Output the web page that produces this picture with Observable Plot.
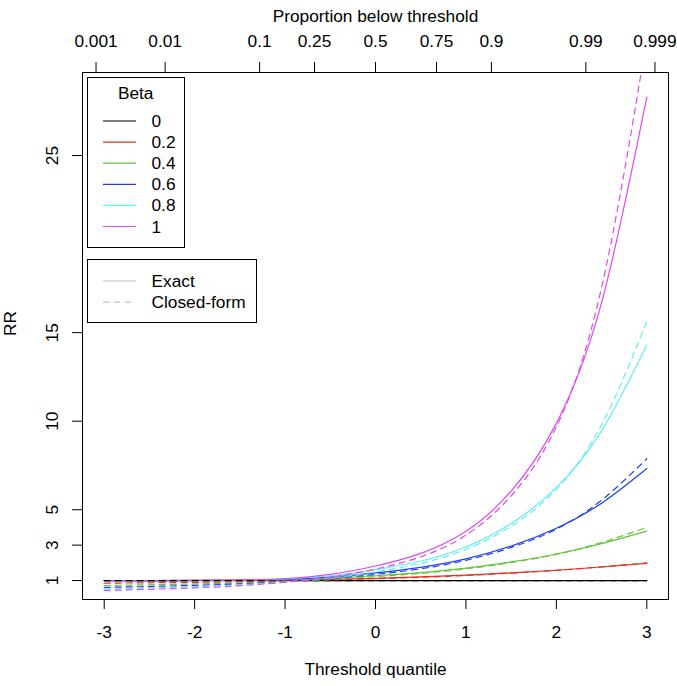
<!DOCTYPE html>
<html>
<head>
<meta charset="utf-8">
<script src="https://cdn.jsdelivr.net/npm/d3@7"></script>
<script src="https://cdn.jsdelivr.net/npm/@observablehq/plot@0.6"></script>
<style>
  html, body { margin: 0; padding: 0; background: #fff; }
  svg { font-family: "Liberation Sans", Arial, sans-serif; }
</style>
</head>
<body>
<div id="chart"></div>
<script>
// ---- data ----
const quantiles = [-3, -2.5, -2, -1.5, -1, -0.5, 0, 0.5, 1, 1.5, 2, 2.5, 3];
const betas = ["0", "0.2", "0.4", "0.6", "0.8", "1"];
const betaColors = ["#000000", "#e8321e", "#64c43c", "#2040f0", "#60f0f0", "#e048f0"];

const exact0  = [1, 1, 1, 1, 1, 1, 1, 1, 1, 1, 1, 1, 1];
const exact02 = [1, 1.000, 1.002, 1.007, 1.022, 1.062, 1.127, 1.204, 1.305, 1.433, 1.581, 1.765, 1.97];
const exact04 = [1, 1.001, 1.004, 1.014, 1.045, 1.127, 1.271, 1.451, 1.702, 2.054, 2.499, 3.083, 3.79];
const exact06 = [1, 1.001, 1.006, 1.021, 1.068, 1.197, 1.433, 1.747, 2.221, 2.945, 3.951, 5.37, 7.33];
const exact08 = [1, 1.002, 1.008, 1.028, 1.092, 1.271, 1.616, 2.104, 2.898, 4.221, 6.246, 9.45, 14.3];
const exact1  = [1, 1.002, 1.010, 1.036, 1.116, 1.350, 1.822, 2.535, 3.781, 6.050, 9.875, 16.69, 28.3];

const closed0  = [1, 1, 1, 1, 1, 1, 1, 1, 1, 1, 1, 1, 1];
const closed02 = [0.849, 0.873, 0.899, 0.933, 0.980, 1.035, 1.105, 1.185, 1.289, 1.420, 1.575, 1.774, 1.995];
const closed04 = [0.720, 0.762, 0.809, 0.871, 0.961, 1.070, 1.221, 1.405, 1.662, 2.018, 2.479, 3.146, 4.0];
const closed06 = [0.611, 0.666, 0.728, 0.813, 0.942, 1.107, 1.350, 1.665, 2.143, 2.866, 3.904, 5.54, 7.88];
const closed08 = [0.519, 0.581, 0.654, 0.759, 0.923, 1.146, 1.492, 1.974, 2.762, 4.071, 6.147, 9.8, 15.62];
const closed1  = [0.440, 0.508, 0.589, 0.708, 0.905, 1.185, 1.649, 2.340, 3.561, 5.783, 9.679, 17.55, 31.6];

const xTicks = [-3, -2, -1, 0, 1, 2, 3];
const yTicks = [1, 3, 5, 10, 15, 25];
const topTickLabels = ["0.001", "0.01", "0.1", "0.25", "0.5", "0.75", "0.9", "0.99", "0.999"];
const topTickQuantiles = [-3.0902, -2.3263, -1.2816, -0.6745, 0, 0.6745, 1.2816, 2.3263, 3.0902];

const methods = ["Exact", "Closed-form"];

// ---- build tables ----
const exactSeries = [exact0, exact02, exact04, exact06, exact08, exact1];
const closedSeries = [closed0, closed02, closed04, closed06, closed08, closed1];
const exactRows = [];
const closedRows = [];
betas.forEach((b, i) => {
  quantiles.forEach((q, j) => {
    exactRows.push({beta: b, q, rr: exactSeries[i][j]});
    closedRows.push({beta: b, q, rr: closedSeries[i][j]});
  });
});

const FS = 17.3;
const plot = Plot.plot({
  width: 677,
  height: 686,
  marginLeft: 82,
  marginRight: 9,
  marginTop: 72,
  marginBottom: 87,
  style: {fontFamily: "'Liberation Sans', Arial, sans-serif", fontSize: FS + "px", background: "#fff", color: "#000", overflow: "visible"},
  x: {domain: [-3.24, 3.24]},
  y: {domain: [-0.07, 29.69]},
  color: {domain: betas, range: betaColors},
  marks: [
    Plot.axisX(xTicks, {anchor: "bottom", tickSize: 10, tickPadding: 16.4, tickFormat: d => String(d), label: null, fontSize: FS}),
    Plot.axisX(topTickQuantiles, {anchor: "top", tickSize: 11, tickPadding: 14.3, tickFormat: (d, i) => topTickLabels[i], label: null, fontSize: FS}),
    Plot.axisY(yTicks, {anchor: "left", tickSize: 10, tickPadding: 14.5, tickRotate: -90, tickFormat: d => String(d), label: null, fontSize: FS}),
    Plot.text(["Threshold quantile"], {frameAnchor: "bottom", dy: 75.3, fontSize: FS}),
    Plot.text(["Proportion below threshold"], {frameAnchor: "top", dy: -62.5, fontSize: FS}),
    Plot.text(["RR"], {frameAnchor: "left", dx: -72, rotate: -90, fontSize: FS}),
    Plot.line(exactRows, {x: "q", y: "rr", z: "beta", stroke: "beta", strokeWidth: 1.2, curve: "natural", clip: true}),
    Plot.line(closedRows, {x: "q", y: "rr", z: "beta", stroke: "beta", strokeWidth: 1.2, strokeDasharray: "6,5", curve: "natural", clip: true}),
    Plot.frame({stroke: "#000", strokeWidth: 1})
  ]
});
document.getElementById("chart").appendChild(plot);

// ---- legends (layout drawn into the same SVG) ----
const svg = d3.select(plot);
const lg = svg.append("g").attr("font-size", FS).attr("fill", "#000").attr("text-anchor", "start");
// Beta legend
lg.append("rect").attr("x", 87.5).attr("y", 77.5).attr("width", 97).attr("height", 170)
  .attr("fill", "#fff").attr("stroke", "#000");
lg.append("text").attr("x", 135.7).attr("y", 93.3).attr("dy", "0.35em").attr("text-anchor", "middle").text("Beta");
betas.forEach((b, i) => {
  const y = 121 + i * 21.1;
  lg.append("line").attr("x1", 103).attr("x2", 136).attr("y1", y).attr("y2", y)
    .attr("stroke", betaColors[i]).attr("stroke-width", 1.2);
  lg.append("text").attr("x", 151.5).attr("y", y).attr("dy", "0.35em").attr("text-anchor", "start").text(b);
});
// Method legend
lg.append("rect").attr("x", 87.5).attr("y", 259.5).attr("width", 169).attr("height", 63)
  .attr("fill", "#fff").attr("stroke", "#000");
methods.forEach((m, i) => {
  const y = 281 + i * 21.1;
  lg.append("line").attr("x1", 103).attr("x2", 136).attr("y1", y).attr("y2", y)
    .attr("stroke", "#bebebe").attr("stroke-width", 1.2)
    .attr("stroke-dasharray", i === 1 ? "6,5" : null);
  lg.append("text").attr("x", 151.5).attr("y", y).attr("dy", "0.35em").attr("text-anchor", "start").text(m);
});
</script>
</body>
</html>
